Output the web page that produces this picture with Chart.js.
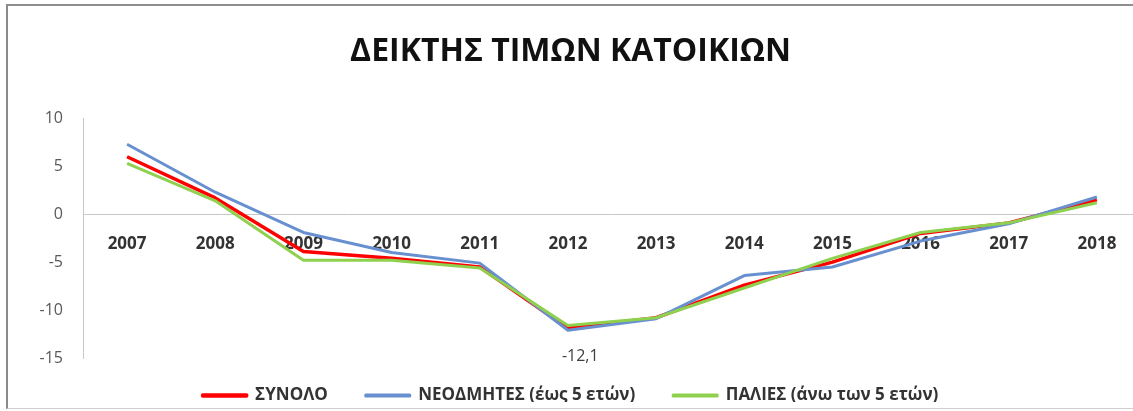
<!DOCTYPE html>
<html>
<head>
<meta charset="utf-8">
<script src="https://cdn.jsdelivr.net/npm/chart.js@4"></script>
<style>
  html, body { margin: 0; padding: 0; background: #fff; overflow: hidden; }
  body { width: 1133px; height: 411px; position: relative; }
  #frame {
    position: absolute; left: 6px; top: 4px; width: 1200px; height: 402px;
    border-left: 2px solid #8a8a8a; border-top: 2px solid #8f8f8f; border-bottom: 1px solid #cfcfcf;
  }
  #wrap { position: absolute; left: 0; top: 0; width: 1150px; height: 411px; }
</style>
</head>
<body>
<div id="frame"></div>
<div id="wrap"><canvas id="grafico"></canvas></div>
<script>
var titulo = 'ΔΕΙΚΤΗΣ ΤΙΜΩΝ ΚΑΤΟΙΚΙΩΝ'
var anos = ['2007', '2008', '2009', '2010', '2011', '2012', '2013', '2014', '2015', '2016', '2017', '2018']
var yTicks = [-15, -10, -5, 0, 5, 10]

var nomeSynolo = 'ΣΥΝΟΛΟ'
var nomeNeodmites = 'ΝΕΟΔΜΗΤΕΣ (έως 5 ετών)'
var nomePalies = 'ΠΑΛΙΕΣ (άνω των 5 ετών)'

var synolo    = [6.0, 1.7, -3.9, -4.6, -5.5, -11.9, -10.8, -7.4, -5.0, -2.0, -0.9, 1.5]
var neodmites = [7.3, 2.3, -1.9, -4.0, -5.1, -12.1, -10.9, -6.4, -5.5, -2.8, -1.0, 1.8]
var palies    = [5.3, 1.4, -4.8, -4.8, -5.6, -11.6, -10.8, -7.7, -4.6, -1.9, -0.9, 1.2]

// the one value printed on the chart: series index + point index
var rotulo = { dataset: 1, index: 5 }

var fonte = "'Open Sans', 'Noto Sans', 'DejaVu Sans', sans-serif"

// writes the value under the marked point
const rotuloPlugin = {
  id: 'rotulo',
  afterDatasetsDraw(chart) {
    const meta = chart.getDatasetMeta(rotulo.dataset)
    const pt = meta.data[rotulo.index]
    const valor = chart.data.datasets[rotulo.dataset].data[rotulo.index]
    const ctx = chart.ctx
    ctx.save()
    ctx.font = '16px ' + fonte
    ctx.fillStyle = '#404040'
    ctx.textAlign = 'left'
    ctx.textBaseline = 'middle'
    ctx.fillText(valor.toFixed(1).replace('.', ','), pt.x - 6, pt.y + 26)
    ctx.restore()
  }
}

// legend box keeps its wide padding for the gaps, but sits a little higher
const legendaPlugin = {
  id: 'legendaAjuste',
  afterLayout(chart) {
    if (chart.legend) {
      chart.legend.top -= 9
      chart.legend.bottom -= 9
    }
  }
}

function createGrafico(ctx) {
  return new Chart(ctx, {
    type: 'line',
    data: {
      labels: anos,
      datasets: [{
        label: nomeSynolo,
        data: synolo,
        borderColor: '#ff0000',
        backgroundColor: '#ff0000',
        borderWidth: 3.5,
        order: 3
      }, {
        label: nomeNeodmites,
        data: neodmites,
        borderColor: '#6890d0',
        backgroundColor: '#6890d0',
        borderWidth: 3,
        order: 2
      }, {
        label: nomePalies,
        data: palies,
        borderColor: '#8fd14f',
        backgroundColor: '#8fd14f',
        borderWidth: 3,
        order: 1
      }]
    },
    options: {
      responsive: true,
      maintainAspectRatio: false,
      animation: false,
      layout: { padding: { left: 0, right: 9, top: 0, bottom: 0 } },
      elements: {
        point: { radius: 0, hoverRadius: 0 },
        line: { tension: 0, borderJoinStyle: 'round' }
      },
      plugins: {
        title: {
          display: true,
          text: titulo,
          color: '#111',
          font: { family: fonte, size: 32, weight: 'bold' },
          padding: { top: 33, bottom: 47 }
        },
        legend: {
          position: 'bottom',
          maxHeight: 53,
          labels: {
            color: '#333',
            font: { family: fonte, size: 17, weight: 'bold' },
            boxWidth: 44,
            boxHeight: 1,
            padding: 38,
            sort: (a, b) => a.datasetIndex - b.datasetIndex
          }
        },
        tooltip: { enabled: false }
      },
      scales: {
        x: {
          position: { y: 0 },
          offset: true,
          grid: { display: false, drawTicks: false },
          border: { display: true, color: '#c8c8c8', width: 1 },
          ticks: {
            color: '#333',
            font: { family: fonte, size: 17, weight: 'bold' },
            padding: 20,
            maxRotation: 0,
            autoSkip: false
          }
        },
        y: {
          min: -15,
          max: 10,
          afterFit: s => { s.width = 83 },
          afterBuildTicks: s => { s.ticks = yTicks.map(v => ({ value: v })) },
          grid: { display: false, drawTicks: false },
          border: { display: true, color: '#c8c8c8', width: 1 },
          ticks: {
            color: '#595959',
            font: { family: fonte, size: 16 },
            padding: 20
          }
        }
      }
    },
    plugins: [rotuloPlugin, legendaPlugin]
  })
}

var chartPrecos = createGrafico(document.getElementById('grafico'))
</script>
</body>
</html>
